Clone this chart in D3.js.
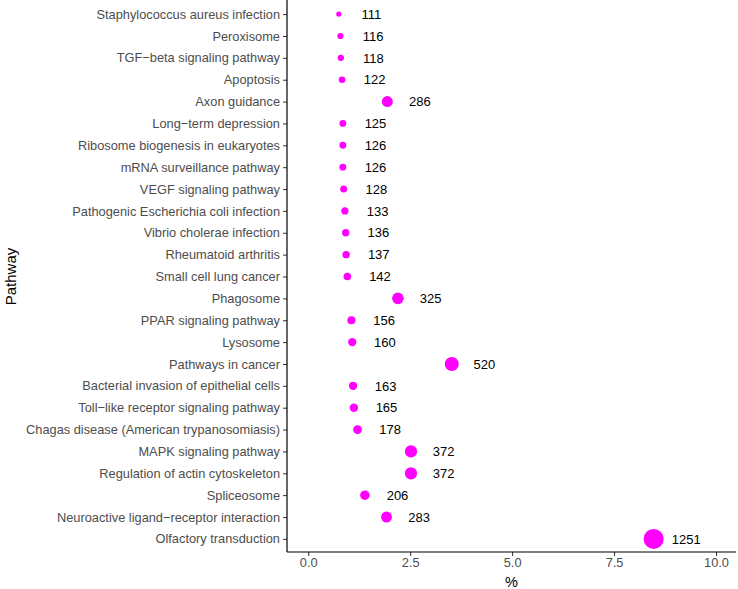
<!DOCTYPE html>
<html><head><meta charset="utf-8">
<script src="https://cdn.jsdelivr.net/npm/d3@7/dist/d3.min.js"></script>
<style>body{margin:0;background:#fff;font-family:"Liberation Sans",Arial,sans-serif}</style>
</head><body><svg id="c" width="738" height="589"></svg>
<script>
const pathways = ["Staphylococcus aureus infection","Peroxisome","TGF\u2212beta signaling pathway","Apoptosis","Axon guidance","Long\u2212term depression","Ribosome biogenesis in eukaryotes","mRNA surveillance pathway","VEGF signaling pathway","Pathogenic Escherichia coli infection","Vibrio cholerae infection","Rheumatoid arthritis","Small cell lung cancer","Phagosome","PPAR signaling pathway","Lysosome","Pathways in cancer","Bacterial invasion of epithelial cells","Toll\u2212like receptor signaling pathway","Chagas disease (American trypanosomiasis)","MAPK signaling pathway","Regulation of actin cytoskeleton","Spliceosome","Neuroactive ligand\u2212receptor interaction","Olfactory transduction"];
const counts = [111,116,118,122,286,125,126,126,128,133,136,137,142,325,156,160,520,163,165,178,372,372,206,283,1251];
const percents = [0.75,0.79,0.80,0.83,1.94,0.85,0.85,0.85,0.87,0.90,0.92,0.93,0.96,2.20,1.06,1.08,3.52,1.10,1.12,1.21,2.52,2.52,1.39,1.92,8.47];
const xTicks = [0,2.5,5,7.5,10];

const svg = d3.select("#c");
const L = 287, R = 736, T = 1, B = 552;
const x = d3.scaleLinear().domain([-0.52, 10.49]).range([L, R]);
const y = d3.scalePoint().domain(pathways).range([T, B]).padding(0.6);
const cMin = d3.min(counts), cMax = d3.max(counts);
const t = d3.scaleLinear().domain([cMin, cMax]).range([0,1]);
const r = d3.scaleSqrt().domain([0,1]).range([2.6,10]);

const data = pathways.map((p,i)=>({p, c:counts[i], v:percents[i]}));
const FONT = "Liberation Sans, Arial, sans-serif";

// axes
const ya = svg.append("g").attr("transform",`translate(${L},0)`)
  .call(d3.axisLeft(y).tickSize(4).tickPadding(3));
ya.select(".domain").remove();
ya.selectAll(".tick line").attr("stroke","#333").attr("stroke-width",1);
ya.selectAll(".tick text").attr("fill","#4D4D4D").style("font-size","12.8px").style("font-family",FONT);

const xa = svg.append("g").attr("transform",`translate(0,${B})`)
  .call(d3.axisBottom(x).tickValues(xTicks).tickFormat(d3.format(".1f")).tickSize(4).tickPadding(2));
xa.select(".domain").remove();
xa.selectAll(".tick line").attr("stroke","#333");
xa.selectAll(".tick text").attr("fill","#4D4D4D").style("font-size","12.8px").style("font-family",FONT);

svg.append("line").attr("x1",L).attr("x2",L).attr("y1",0).attr("y2",B).attr("stroke","#000").attr("stroke-width",1.2);
svg.append("line").attr("x1",L).attr("x2",R).attr("y1",B).attr("y2",B).attr("stroke","#000").attr("stroke-width",1.2);

// points
svg.append("g").selectAll("circle").data(data).join("circle")
  .attr("cx",d=>x(d.v)).attr("cy",d=>y(d.p)).attr("r",d=>r(t(d.c))).attr("fill","#FF00FF");

// labels
svg.append("g").selectAll("text").data(data).join("text")
  .attr("x",d=>x(d.v+0.8)).attr("y",d=>y(d.p)).attr("dy","0.36em")
  .attr("text-anchor","middle").style("font-size","13px").style("font-family",FONT).attr("fill","#000").text(d=>d.c);

// titles
svg.append("text").attr("x",(L+R)/2).attr("y",587).attr("text-anchor","middle").style("font-size","14.5px").style("font-family",FONT).text("%");
svg.append("text").attr("transform",`translate(16,${(T+B)/2}) rotate(-90)`).attr("text-anchor","middle").style("font-size","15px").style("font-family",FONT).text("Pathway");
</script></body></html>
